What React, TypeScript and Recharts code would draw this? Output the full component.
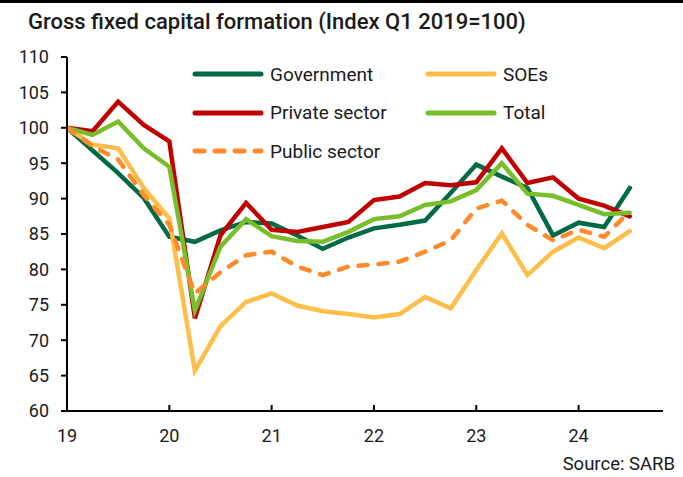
import React from "react";
import { LineChart, Line, XAxis, YAxis } from "recharts";

// quarterly, Q1 2019 .. Q3 2024
const quarters = [
  "2019Q1", "2019Q2", "2019Q3", "2019Q4",
  "2020Q1", "2020Q2", "2020Q3", "2020Q4",
  "2021Q1", "2021Q2", "2021Q3", "2021Q4",
  "2022Q1", "2022Q2", "2022Q3", "2022Q4",
  "2023Q1", "2023Q2", "2023Q3", "2023Q4",
  "2024Q1", "2024Q2", "2024Q3",
];
const yearLabels = ["19", "20", "21", "22", "23", "24"];
const yTicks = [60, 65, 70, 75, 80, 85, 90, 95, 100, 105, 110];

const government = [100, 96.8, 93.6, 90.1, 84.6, 83.9, 85.5, 86.7, 86.5, 84.8, 82.9, 84.5, 85.8, 86.3, 86.9, 90.8, 94.8, 93.1, 91.5, 84.8, 86.6, 86.0, 91.5];
const soes = [100, 97.6, 97.1, 91.5, 87.2, 65.7, 72.0, 75.4, 76.6, 74.9, 74.1, 73.7, 73.2, 73.7, 76.1, 74.5, 79.9, 85.1, 79.2, 82.5, 84.5, 83.0, 85.4];
const privateSector = [100, 99.5, 103.7, 100.4, 98.1, 73.1, 84.8, 89.4, 85.6, 85.3, 86.0, 86.7, 89.8, 90.3, 92.2, 91.9, 92.3, 97.1, 92.2, 93.0, 90.0, 89.0, 87.5];
const total = [100, 99.0, 100.9, 97.1, 94.5, 74.2, 83.2, 87.1, 84.7, 84.0, 83.9, 85.3, 87.1, 87.5, 89.1, 89.6, 91.2, 95.0, 90.7, 90.4, 89.1, 87.8, 88.0];
const publicSector = [100, 97.4, 95.5, 90.5, 86.3, 76.6, 79.6, 82.0, 82.5, 80.4, 79.2, 80.4, 80.7, 81.1, 82.5, 84.1, 88.6, 89.7, 86.3, 84.1, 85.6, 84.6, 88.2];

const SERIES = [
  { key: "government", name: "Government", color: "#006A44", dashed: false },
  { key: "soes", name: "SOEs", color: "#FFBD4A", dashed: false },
  { key: "privateSector", name: "Private sector", color: "#C00000", dashed: false },
  { key: "total", name: "Total", color: "#78BE2A", dashed: false },
  { key: "publicSector", name: "Public sector", color: "#FF8A2B", dashed: true },
];

const data = quarters.map((q, i) => ({
  idx: i,
  quarter: q,
  government: government[i],
  soes: soes[i],
  privateSector: privateSector[i],
  total: total[i],
  publicSector: publicSector[i],
}));

const FONT = "Roboto, 'Liberation Sans', sans-serif";
const TEXT = "#1a1a1a";

const LegendBox = () => (
  <div
    style={{
      position: "absolute",
      top: 55,
      left: 192,
      display: "grid",
      gridTemplateColumns: "233px 160px",
      gridAutoRows: "38.5px",
      alignItems: "center",
      fontSize: 19,
    }}
  >
    {SERIES.map((s) => (
      <div key={s.key} style={{ display: "flex", alignItems: "center" }}>
        <svg width={72} height={10} style={{ marginRight: 6 }}>
          <line
            x1={3}
            y1={5}
            x2={69}
            y2={5}
            stroke={s.color}
            strokeWidth={5}
            strokeLinecap="round"
            strokeDasharray={s.dashed ? "9 11" : undefined}
          />
        </svg>
        <span>{s.name}</span>
      </div>
    ))}
  </div>
);

export default function App() {
  return (
    <div
      style={{
        position: "absolute",
        top: 0,
        left: 0,
        width: 683,
        height: 477,
        background: "#fff",
        fontFamily: FONT,
        color: TEXT,
      }}
    >
      <div style={{ position: "absolute", top: 0, left: 0, width: 683, height: 3, background: "#000" }} />
      <div
        style={{
          position: "absolute",
          top: 9,
          left: 28,
          fontSize: 22,
          fontWeight: 500,
          whiteSpace: "nowrap",
        }}
      >
        Gross fixed capital formation (Index Q1 2019=100)
      </div>
      <LineChart
        width={683}
        height={477}
        data={data}
        margin={{ top: 57, right: 20, bottom: 36, left: 0 }}
      >
        <XAxis
          dataKey="idx"
          type="number"
          domain={[0, 23.3]}
          ticks={yearLabels.map((_, i) => i * 4)}
          tickFormatter={(v: number) => yearLabels[v / 4]}
          interval={0}
          allowDataOverflow
          height={30}
          stroke="#000"
          strokeWidth={2}
          tickSize={-6}
          tickMargin={24}
          tick={{ fill: TEXT, fontSize: 18, fontFamily: FONT }}
        />
        <YAxis
          domain={[60, 110]}
          ticks={yTicks}
          interval={0}
          width={67}
          stroke="#000"
          strokeWidth={2}
          tickSize={6}
          tickMargin={12}
          tick={{ fill: TEXT, fontSize: 18, fontFamily: FONT }}
        />
        {SERIES.map((s) => (
          <Line
            key={s.key}
            dataKey={s.key}
            name={s.name}
            stroke={s.color}
            strokeWidth={4.5}
            strokeDasharray={s.dashed ? "9 11" : undefined}
            strokeLinecap="round"
            dot={false}
            isAnimationActive={false}
          />
        ))}
      </LineChart>
      <LegendBox />
      <div style={{ position: "absolute", right: 8, bottom: 2, fontSize: 18.5 }}>
        Source: SARB
      </div>
    </div>
  );
}
